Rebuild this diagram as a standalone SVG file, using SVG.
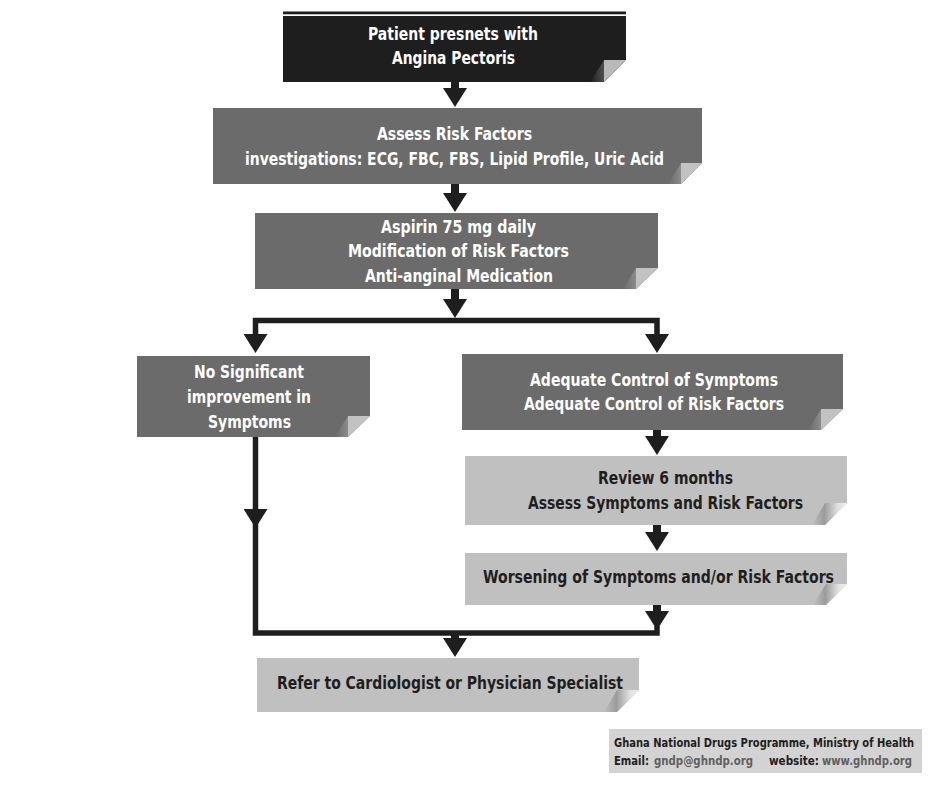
<svg xmlns="http://www.w3.org/2000/svg" width="941" height="789" viewBox="0 0 941 789">
  <style>
    .t { font-family: "DejaVu Sans Condensed", "DejaVu Sans", "Liberation Sans", sans-serif; font-stretch: condensed; font-weight: bold; font-size: 18px; text-anchor: middle; }
    .tw { fill: #ffffff; }
    .tb { fill: #1e1e1e; }
    .black { fill: #1e1e1e; }
    .dark { fill: #6b6b6b; }
    .light { fill: #c0c0c0; }
    .flapD { fill: #c2c2c2; }
    .flapL { fill: url(#gFlapL); }
    .shD { fill: url(#gShD); }
    .shL { fill: url(#gShL); }
    .stem { fill: none; stroke: #1e1e1e; stroke-width: 8; }
    .line { fill: none; stroke: #1e1e1e; stroke-width: 5.5; stroke-linejoin: miter; }
    .cr { font-family: "DejaVu Sans Condensed", "DejaVu Sans", "Liberation Sans", sans-serif; font-stretch: condensed; font-weight: bold; font-size: 12px; }
  </style>
  <defs>
    <marker id="ah" markerUnits="userSpaceOnUse" viewBox="0 -12 19 24" markerWidth="19" markerHeight="24" refX="8" refY="0" orient="auto-start-reverse">
      <path d="M0,-12 L19,0 L0,12 Z" fill="#1e1e1e"/>
    </marker>
    <linearGradient id="gFlapL" x1="0" y1="0" x2="1" y2="0">
      <stop offset="0" stop-color="#a0a0a0"/>
      <stop offset="0.6" stop-color="#e2e2e2"/>
      <stop offset="1" stop-color="#eeeeee"/>
    </linearGradient>
    <linearGradient id="gShD" x1="0" y1="0" x2="1" y2="0">
      <stop offset="0" stop-color="#ffffff" stop-opacity="0"/>
      <stop offset="1" stop-color="#ffffff" stop-opacity="0.22"/>
    </linearGradient>
    <linearGradient id="gShL" x1="0" y1="0" x2="1" y2="0">
      <stop offset="0" stop-color="#000000" stop-opacity="0"/>
      <stop offset="1" stop-color="#000000" stop-opacity="0.2"/>
    </linearGradient>
  </defs>

  <rect x="0" y="0" width="941" height="789" fill="#ffffff"/>

  <g id="connectors">
    <path class="stem" d="M455,82 V96" marker-end="url(#ah)"/>
    <path class="stem" d="M455,184 V201" marker-end="url(#ah)"/>
    <path class="stem" d="M455,289 V307" marker-end="url(#ah)"/>
    <path class="line" d="M255.5,342 V320.5 H657 V342" marker-start="url(#ah)" marker-end="url(#ah)"/>
    <path class="stem" d="M657,430 V444" marker-end="url(#ah)"/>
    <path class="stem" d="M657,525 V540" marker-end="url(#ah)"/>
    <path class="stem" d="M657,605 V619" marker-end="url(#ah)"/>
    <path class="line" d="M255.5,437 V517" marker-end="url(#ah)"/>
    <path class="line" d="M255.5,520 V633 H657 V626"/>
    <path class="stem" d="M455,633 V646" marker-end="url(#ah)"/>
  </g>

  <g id="n-start">
    <rect x="283" y="11.5" width="343" height="2.8" fill="#1e1e1e"/>
    <path class="black" d="M283,16 H626 V60 L604,82 H283 Z"/>
    <path class="shD" d="M590,82 L604,60 L604,82 Z"/>
    <path class="flapD" d="M604,60 H626 L604,82 Z" style="fill:#b9b9b9"/>
    <text class="t tw" x="453" y="40" textLength="170" lengthAdjust="spacingAndGlyphs">Patient presnets with</text>
    <text class="t tw" x="453.5" y="64" textLength="123" lengthAdjust="spacingAndGlyphs">Angina Pectoris</text>
  </g>

  <g id="n-assess">
    <path class="dark" d="M213,108 H702 V163 L681,184 H213 Z"/>
    <path class="shD" d="M668,184 L681,163 L681,184 Z"/>
    <path class="flapD" d="M681,163 H702 L681,184 Z"/>
    <text class="t tw" x="454.5" y="140" textLength="155" lengthAdjust="spacingAndGlyphs">Assess Risk Factors</text>
    <text class="t tw" x="454.5" y="165" textLength="419" lengthAdjust="spacingAndGlyphs">investigations: ECG, FBC, FBS, Lipid Profile, Uric Acid</text>
  </g>

  <g id="n-aspirin">
    <path class="dark" d="M255,213 H658 V268 L636,289 H255 Z"/>
    <path class="shD" d="M623,289 L636,268 L636,289 Z"/>
    <path class="flapD" d="M636,268 H658 L636,289 Z"/>
    <text class="t tw" x="458.5" y="233" textLength="155" lengthAdjust="spacingAndGlyphs">Aspirin 75 mg daily</text>
    <text class="t tw" x="458.5" y="257" textLength="221" lengthAdjust="spacingAndGlyphs">Modification of Risk Factors</text>
    <text class="t tw" x="459" y="282" textLength="188" lengthAdjust="spacingAndGlyphs">Anti-anginal Medication</text>
  </g>

  <g id="n-nosig">
    <path class="dark" d="M137,356 H370 V416 L348,437 H137 Z"/>
    <path class="shD" d="M335,437 L348,416 L348,437 Z"/>
    <path class="flapD" d="M348,416 H370 L348,437 Z"/>
    <text class="t tw" x="249" y="378" textLength="110" lengthAdjust="spacingAndGlyphs">No Significant</text>
    <text class="t tw" x="249" y="403" textLength="124" lengthAdjust="spacingAndGlyphs">improvement in</text>
    <text class="t tw" x="249.5" y="428" textLength="83" lengthAdjust="spacingAndGlyphs">Symptoms</text>
  </g>

  <g id="n-adequate">
    <path class="dark" d="M462,354 H843 V409 L821,430 H462 Z"/>
    <path class="shD" d="M808,430 L821,409 L821,430 Z"/>
    <path class="flapD" d="M821,409 H843 L821,430 Z"/>
    <text class="t tw" x="654" y="386" textLength="248" lengthAdjust="spacingAndGlyphs">Adequate Control of Symptoms</text>
    <text class="t tw" x="654" y="410" textLength="260" lengthAdjust="spacingAndGlyphs">Adequate Control of Risk Factors</text>
  </g>

  <g id="n-review">
    <path class="light" d="M465,456 H847 V503 L825,525 H465 Z"/>
    <path class="shL" d="M812,525 L825,503 L825,525 Z"/>
    <path class="flapL" d="M825,503 H847 L825,525 Z"/>
    <text class="t tb" x="665.5" y="484" textLength="135" lengthAdjust="spacingAndGlyphs">Review 6 months</text>
    <text class="t tb" x="665.5" y="509" textLength="275" lengthAdjust="spacingAndGlyphs">Assess Symptoms and Risk Factors</text>
  </g>

  <g id="n-worse">
    <path class="light" d="M465,553 H847 V584 L826,605 H465 Z"/>
    <path class="shL" d="M813,605 L826,584 L826,605 Z"/>
    <path class="flapL" d="M826,584 H847 L826,605 Z"/>
    <text class="t tb" x="658.5" y="583" textLength="351" lengthAdjust="spacingAndGlyphs">Worsening of Symptoms and/or Risk Factors</text>
  </g>

  <g id="n-refer">
    <path class="light" d="M257,658 H639 V690 L617,712 H257 Z"/>
    <path class="shL" d="M604,712 L617,690 L617,712 Z"/>
    <path class="flapL" d="M617,690 H639 L617,712 Z"/>
    <text class="t tb" x="450" y="689" textLength="346" lengthAdjust="spacingAndGlyphs">Refer to Cardiologist or Physician Specialist</text>
  </g>

  <g id="credit">
    <rect x="609" y="729" width="313" height="44" fill="#d3d3d3"/>
    <text class="cr" x="614" y="747" fill="#1e1e1e" textLength="300" lengthAdjust="spacingAndGlyphs">Ghana National Drugs Programme, Ministry of Health</text>
    <text class="cr" x="614" y="765" fill="#1e1e1e" textLength="35" lengthAdjust="spacingAndGlyphs">Email:</text>
    <text class="cr" x="654" y="765" fill="#5f5f5f" textLength="99" lengthAdjust="spacingAndGlyphs">gndp@ghndp.org</text>
    <text class="cr" x="769" y="765" fill="#1e1e1e" textLength="50" lengthAdjust="spacingAndGlyphs">website:</text>
    <text class="cr" x="822" y="765" fill="#5f5f5f" textLength="90" lengthAdjust="spacingAndGlyphs">www.ghndp.org</text>
  </g>
</svg>
